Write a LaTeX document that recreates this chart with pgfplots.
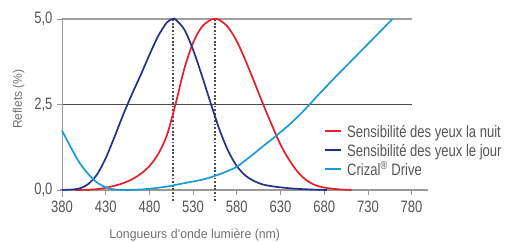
\documentclass[border=0pt]{standalone}
\usepackage{pgfplots}
\pgfplotsset{compat=1.18}
\usepackage{fontspec}
\setmainfont{Liberation Sans}[FakeStretch=0.79]
\newfontfamily\labfont{Liberation Sans}[FakeStretch=0.96]
\definecolor{cred}{HTML}{E5202B}
\definecolor{cnavy}{HTML}{24318A}
\definecolor{ccyan}{HTML}{1C9AD6}
\definecolor{tick}{HTML}{555555}
\definecolor{lab}{HTML}{707070}
\begin{document}
\begin{tikzpicture}
\useasboundingbox (-62pt,-51pt) rectangle (443pt,190pt);
\begin{axis}[
  scale only axis, width=367.1pt, height=171pt,
  xmin=380, xmax=800, ymin=0, ymax=5,
  clip=false,
  axis line style={draw=none},
  xtick={380,430,...,780}, ytick={0,2.5,5},
  yticklabels={0{,}0,2{,}5,5{,}0},
  xtick pos=left, ytick pos=left,
  tick align=outside, major tick length=5pt,
  tick style={draw=gray!80, line width=0.8pt},
  /pgf/number format/assume math mode=true,
  /pgf/number format/1000 sep={},
  tick label style={font=\fontsize{16.5}{18}\selectfont, text=tick},
  xticklabel style={yshift=-2pt},
  yticklabel style={xshift=-1pt},
  legend style={at={(rel axis cs:0.7137,0.38)}, anchor=north west, draw=none, fill=none,
     inner sep=0pt, row sep=0pt,
     font=\fontsize{16.5}{18}\selectfont, text=tick,
     nodes={inner sep=0pt, text height=12.5pt, text depth=6.6pt}},
  legend cell align=left,
  legend image code/.code={\draw[line width=2pt] (0pt,4pt) -- (16pt,4pt);},
]
% grid and axis lines
\draw[color=gray!75, line width=1.2pt] (axis cs:380,5) -- (axis cs:780,5);
\draw[color=black!70, line width=0.8pt] (axis cs:380,2.5) -- (axis cs:780,2.5);
\draw[color=gray!80, line width=1.2pt] (axis cs:378,0) -- (axis cs:799,0);
\draw[color=gray!80, line width=0.8pt] (axis cs:380,-0.2) -- (axis cs:380,5);
% dotted markers
\addplot[forget plot, color=black!70, line width=1.4pt, dash pattern=on 1.8pt off 1.8pt] coordinates {(507,-0.32) (507,5)};
\addplot[forget plot, color=black!70, line width=1.4pt, dash pattern=on 1.8pt off 1.8pt] coordinates {(555,-0.32) (555,5)};
% red: night
\addplot[color=cred, line width=1.7pt, smooth, tension=0.5] coordinates {
(395,0) (400,0.002) (410,0.008) (420,0.025) (430,0.065) (440,0.125) (450,0.2) (460,0.31)
(470,0.47) (480,0.70) (490,1.05) (500,1.6) (510,2.52) (520,3.55) (530,4.31) (540,4.77)
(550,4.975) (555,5.0) (560,4.975) (570,4.76) (580,4.35) (590,3.785) (600,3.155) (610,2.515)
(620,1.905) (630,1.325) (640,0.875) (650,0.52) (660,0.28) (670,0.14) (680,0.07) (690,0.035)
(700,0.015) (711,0)};
\addlegendentry{\hspace{5pt}Sensibilité des yeux la nuit}
% navy: day
\addplot[color=cnavy, line width=1.7pt, smooth, tension=0.5] coordinates {
(380,0.003) (390,0.011) (400,0.046) (410,0.174) (420,0.45) (430,0.93) (440,1.55) (450,2.2)
(460,2.80) (470,3.36) (480,3.95) (490,4.5) (500,4.9) (507,5.0) (510,4.985) (520,4.69)
(530,4.1) (540,3.35) (550,2.55) (560,1.78) (570,1.15) (580,0.70) (590,0.42) (600,0.26)
(610,0.16) (620,0.11) (630,0.078) (640,0.052) (650,0.033) (660,0.02) (670,0.01) (683,0)};
\addlegendentry{\hspace{5pt}Sensibilité des yeux le jour}
% cyan: Crizal Drive
\addplot[color=ccyan, line width=1.7pt, smooth, tension=0.5] coordinates {
(380,1.74) (390,1.25) (400,0.80) (410,0.47) (420,0.22) (430,0.08) (440,0.015) (450,0.0)
(460,0.005) (470,0.015) (480,0.035) (490,0.065) (500,0.10) (510,0.15) (520,0.20) (530,0.25)
(540,0.30) (550,0.37) (560,0.46) (570,0.56) (580,0.68) (590,0.87) (600,1.07) (610,1.28)
(620,1.48) (630,1.69) (640,1.91) (650,2.15) (660,2.41) (670,2.69) (680,2.96) (690,3.23)
(700,3.49) (710,3.75) (720,4.01) (730,4.27) (740,4.53) (750,4.79) (758,5.0)};
\addlegendentry{\hspace{5pt}Crizal\textsuperscript{\textregistered} Drive}
% axis labels
\node[anchor=base, font=\labfont\fontsize{12.8}{14}\selectfont, text=lab] at ([yshift=-48pt]axis cs:531.8,0) {Longueurs d’onde lumière (nm)};
\node[anchor=center, rotate=90, font=\labfont\fontsize{12.5}{14}\selectfont, text=lab] at ([xshift=-43.3pt]rel axis cs:0,0.532) {Reflets (\%)};
\end{axis}
\end{tikzpicture}
\end{document}
